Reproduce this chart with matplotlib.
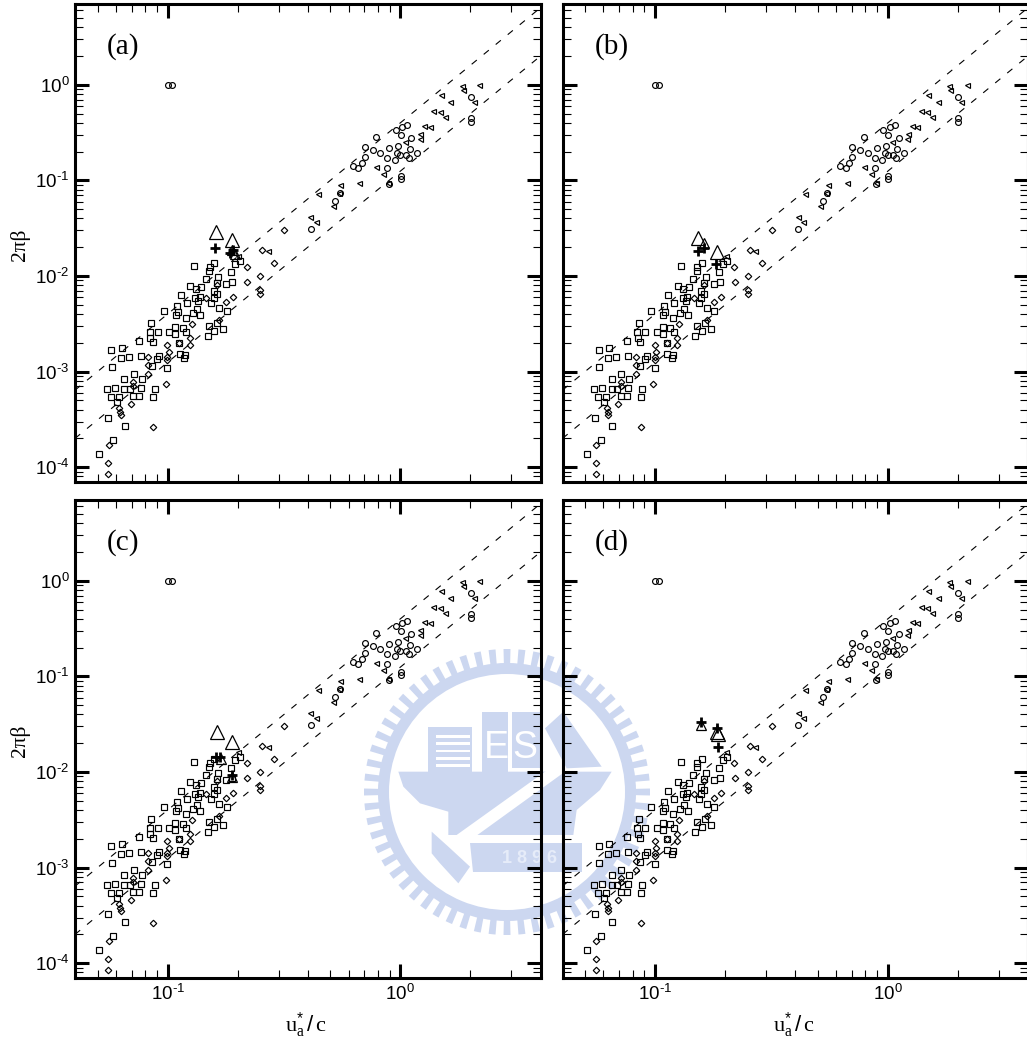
import numpy as np
import matplotlib
matplotlib.use('Agg')
import matplotlib.pyplot as plt
from matplotlib.patches import Wedge, Polygon
from matplotlib.ticker import LogLocator, FuncFormatter, NullFormatter

plt.rcParams['font.family'] = ['Liberation Sans', 'DejaVu Sans']
plt.rcParams['mathtext.fontset'] = 'custom'
plt.rcParams['mathtext.rm'] = 'Liberation Sans'
plt.rcParams['mathtext.it'] = 'Liberation Serif'

# all values, as log10(u/c) and log10(2 pi beta)
square_logu = [-1.293, -1.234, -1.258, -1.185, -1.261, -1.227, -1.245, -1.210, -1.218, -1.187,
               -1.162, -1.116, -1.148, -1.121, -1.062, -1.055, -1.187, -1.146, -1.112, -1.065,
               -1.240, -1.243, -1.198, -1.202, -1.168, -1.115, -1.121, -1.075, -1.076, -1.070,
               -1.043, -1.063, -1.044, -1.036, -1.001, -1.017, -0.993, -0.967, -0.968, -0.966,
               -0.957, -0.960, -0.943, -0.934, -0.920, -0.923, -0.917, -0.902, -0.892, -0.875,
               -0.868, -0.882, -0.861, -0.879, -0.856, -0.836, -0.859, -0.821, -0.819, -0.799,
               -0.887, -0.947, -0.925, -0.928, -0.828, -0.821, -0.799, -0.762, -0.812, -0.801,
               -0.788, -0.802, -0.778, -0.747, -0.786, -0.723, -0.749, -0.727, -0.710, -0.691,
               -0.782, -0.788, -0.951]
square_logb = [-3.863, -3.713, -3.486, -3.570, -3.185, -3.171, -3.262, -3.269, -3.314, -3.182,
               -3.182, -3.168, -3.259, -3.259, -3.269, -3.185, -3.080, -3.021, -3.077, -2.944,
               -2.948, -2.773, -2.752, -2.857, -2.843, -2.839, -2.679, -2.644, -2.591, -2.490,
               -2.591, -2.686, -2.864, -2.839, -2.958, -2.371, -2.591, -2.609, -2.532, -2.403,
               -2.375, -2.319, -2.196, -2.546, -2.591, -2.441, -2.287, -2.102, -2.389, -2.347,
               -2.263, -2.228, -2.217, -2.133, -2.116, -2.036, -2.403, -1.948, -1.903, -1.861,
               -1.892, -2.815, -2.822, -2.857, -2.626, -2.528, -2.577, -2.553, -2.280, -2.228,
               -2.193, -2.158, -2.333, -2.361, -2.493, -2.060, -2.088, -1.955, -1.871, -1.847,
               -2.015, -2.071, -2.696]

diamond_logu = [-1.255, -1.255, -1.254, -1.062, -1.159, -1.202, -1.204, -1.207, -1.007, -1.148,
                -1.148, -1.083, -1.083, -1.083, -1.001, -0.996, -1.001, -1.001, -0.897, -0.904,
                -0.904, -0.951, -0.835, -0.779, -0.788, -0.749, -0.719, -0.657, -0.661, -0.603,
                -0.603, -0.603, -0.541, -0.594, -0.498]
diamond_logb = [-4.066, -3.961, -3.765, -3.583, -3.335, -3.458, -3.426, -3.381, -3.126, -3.105,
                -3.154, -3.024, -2.930, -2.843, -2.724, -2.794, -2.846, -2.881, -2.500, -2.647,
                -2.724, -2.696, -2.231, -2.462, -2.095, -2.273, -2.221, -2.060, -1.910, -2.001,
                -2.147, -2.193, -1.868, -1.728, -1.520]

circle_logu = [-0.386, -0.280, -0.261, -0.204, -0.181, -0.165, -0.152, -0.154, -0.118, -0.103,
               -0.086, -0.057, -0.057, -0.047, -0.049, -0.024, -0.020, -0.014, -0.010, 0.001,
               0.009, 0.029, 0.000, 0.024, 0.037, 0.040, 0.046, 0.070, 0.001, 0.001,
               0.303, 0.303, 0.303, -1.000, -0.983]
circle_logb = [-1.511, -1.217, -1.130, -0.850, -0.867, -0.815, -0.752, -0.650, -0.682, -0.549,
               -0.717, -0.867, -0.766, -0.657, -1.042, -0.787, -0.472, -0.710, -0.636, -0.521,
               -0.441, -0.420, -0.734, -0.731, -0.762, -0.671, -0.552, -0.717, -0.955, -0.990,
               -0.126, -0.350, -0.388, 0.000, 0.000]

left_tri_logu = [-0.387, -0.364, -0.290, -0.264, -0.258, -0.354, -0.177, -0.103, -0.073, -0.052,
                 0.019, 0.083, 0.086, 0.103, 0.126, 0.141, 0.169, 0.191, 0.215, 0.174,
                 0.263, 0.267, 0.316, 0.339, -0.569, -0.696]
left_tri_logb = [-1.381, -1.434, -1.269, -1.137, -1.049, -1.144, -1.032, -0.857, -0.937, -1.025,
                 -0.594, -0.570, -0.514, -0.427, -0.437, -0.269, -0.287, -0.336, -0.185, -0.108,
                 -0.010, -0.059, -0.175, -0.007, -1.735, -1.788]

# the points that change from panel to panel
labels = ['(a)', '(b)', '(c)', '(d)']
big_tri_logu = [[-0.792, -0.725], [-0.814, -0.735], [-0.789, -0.723], [-0.735, -0.728]]
big_tri_logb = [[-1.538, -1.625], [-1.601, -1.754], [-1.586, -1.684], [-1.580, -1.607]]
small_tri_logu = [[-0.722, -0.709], [-0.788], [-0.770, -0.723], [-0.802]]
small_tri_logb = [[-1.730, -1.772], [-1.660], [-1.866, -2.050], [-1.509]]
plus_logu = [[-0.795, -0.730, -0.717], [-0.814, -0.788, -0.738],
             [-0.792, -0.775, -0.723], [-0.802, -0.735, -0.728]]
plus_logb = [[-1.705, -1.761, -1.730], [-1.740, -1.705, -1.871],
             [-1.842, -1.842, -2.034], [-1.475, -1.538, -1.737]]

# the two dashed guide lines
line_u = [0.04, 4.0]
upper_line = [6.4e-4, 6.4]
lower_line = [2.0e-4, 2.0]

xlim = (0.04, 4.0)
ylim = (7e-5, 7.0)

W, H = 1027, 1044
fig = plt.figure(figsize=(W / 100, H / 100), dpi=100)

# watermark behind everything, drawn in picture pixels
bg = fig.add_axes([0, 0, 1, 1], zorder=-1)
bg.set_xlim(0, W)
bg.set_ylim(H, 0)
bg.axis('off')
wm_color = '#ccd7f0'
cx, cy = 507, 792
bg.add_patch(Wedge((cx, cy), 129, 0, 360, width=11, fc=wm_color, ec='none'))
for a in np.arange(0, 360, 6.0):
    bg.add_patch(Wedge((cx, cy), 143, a - 1.4, a + 1.4, width=15, fc=wm_color, ec='none'))


def wm_xy(pts):
    return [(360 + x / 3, 640 + y / 3) for x, y in pts]


hull = [(115, 395), (755, 395), (720, 450), (650, 510), (640, 585), (375, 585), (265, 585),
        (265, 515), (180, 490), (130, 440)]
bg.add_patch(Polygon(wm_xy(hull), fc=wm_color, ec='none'))
bg.add_patch(Polygon(wm_xy([(205, 260), (335, 260), (335, 395), (205, 395)]), fc=wm_color, ec='none'))
for y in range(285, 395, 22):
    bg.add_patch(Polygon(wm_xy([(228, y), (330, y), (330, y + 8), (228, y + 8)]), fc='white', ec='none'))
bg.add_patch(Polygon(wm_xy([(365, 215), (445, 215), (445, 395), (365, 395)]), fc=wm_color, ec='none'))
bg.add_patch(Polygon(wm_xy([(455, 215), (545, 215), (545, 385), (455, 385)]), fc=wm_color, ec='none'))
bg.add_patch(Polygon(wm_xy([(555, 265), (610, 215), (725, 380), (620, 385)]), fc=wm_color, ec='none'))
# sword across the hull, handle lower left
bg.add_patch(Polygon(wm_xy([(255, 610), (590, 370), (615, 395), (290, 630)]), fc='white', ec='none'))
bg.add_patch(Polygon(wm_xy([(215, 575), (265, 620), (330, 680), (295, 730), (240, 670), (215, 640)]),
                     fc=wm_color, ec='none'))
bg.add_patch(Polygon(wm_xy([(330, 610), (665, 610), (665, 695), (340, 695)]), fc=wm_color, ec='none'))
bg.text(360 + 408 / 3, 640 + 325 / 3, 'E', color='white', fontsize=27, ha='center', va='center')
bg.text(360 + 495 / 3, 640 + 325 / 3, 'S', color='white', fontsize=27, ha='center', va='center')
bg.text(360 + 510 / 3, 640 + 655 / 3, '1 8 9 6', color='#e6ecf9', fontsize=13, fontweight='bold',
        ha='center', va='center')


def tick_label(v, pos):
    return r'$\mathdefault{10^{\text{-}%d}}$' % round(-np.log10(v)) if v < 1 else r'$\mathdefault{10^{0}}$'


# panel boxes in pixels: left, top, width, height
pw, ph = 465.5, 478
lefts = [75, 562.5, 75, 562.5]
tops = [4, 4, 500, 500]

for i in range(4):
    ax = fig.add_axes([lefts[i] / W, 1 - (tops[i] + ph) / H, pw / W, ph / H], facecolor='none')
    ax.set_xscale('log')
    ax.set_yscale('log')

    ax.plot(line_u, upper_line, color='k', lw=0.8, dashes=(6, 8))
    ax.plot(line_u, lower_line, color='k', lw=0.8, dashes=(6, 8))

    ax.plot(10.0 ** np.array(square_logu), 10.0 ** np.array(square_logb), ls='none', marker='s',
            ms=3.8, mfc='none', mec='k', mew=0.85)
    ax.plot(10.0 ** np.array(diamond_logu), 10.0 ** np.array(diamond_logb), ls='none', marker='D',
            ms=3.3, mfc='none', mec='k', mew=0.85)
    ax.plot(10.0 ** np.array(circle_logu), 10.0 ** np.array(circle_logb), ls='none', marker='o',
            ms=4.2, mfc='none', mec='k', mew=0.85)
    ax.plot(10.0 ** np.array(left_tri_logu), 10.0 ** np.array(left_tri_logb), ls='none', marker='<',
            ms=3.6, mfc='none', mec='k', mew=0.85)

    ax.plot(10.0 ** np.array(big_tri_logu[i]), 10.0 ** np.array(big_tri_logb[i]), ls='none', marker='^',
            ms=10.5, mfc='none', mec='k', mew=0.9)
    ax.plot(10.0 ** np.array(small_tri_logu[i]), 10.0 ** np.array(small_tri_logb[i]), ls='none', marker='^',
            ms=7, mfc='none', mec='k', mew=0.9)
    ax.plot(10.0 ** np.array(plus_logu[i]), 10.0 ** np.array(plus_logb[i]), ls='none', marker='+',
            ms=7, mec='k', mew=2)

    ax.set_xlim(xlim)
    ax.set_ylim(ylim)

    for axis in (ax.xaxis, ax.yaxis):
        axis.set_major_locator(LogLocator(base=10, numticks=12))
        axis.set_minor_locator(LogLocator(base=10, subs=np.arange(2, 10), numticks=12))
        axis.set_minor_formatter(NullFormatter())
        axis.set_major_formatter(FuncFormatter(tick_label))
    ax.tick_params(which='major', direction='in', top=True, right=True, length=10, width=2.2,
                   labelsize=13.5, pad=4, labelleft=i in (0, 2), labelbottom=i in (2, 3))
    ax.tick_params(which='minor', direction='in', top=True, right=True, length=5.5, width=0.8)
    for s in ax.spines.values():
        s.set_linewidth(2.2)

    ax.text(0.069, 0.912, labels[i], transform=ax.transAxes, family='Liberation Serif', fontsize=21,
            ha='left', va='center')

    if i in (0, 2):
        ax.text(20 / W, 1 - (tops[i] + 241) / H, '2πβ', transform=fig.transFigure, family='Liberation Serif',
                fontsize=15.5, rotation=90, ha='center', va='center')
    if i in (2, 3):
        ax.text((lefts[i] + 231) / W, 1 - 1025 / H, r'$u_a^{*}\,/\,c$', transform=fig.transFigure,
                fontsize=16, ha='center', va='center')

fig.savefig('out.png', dpi=100)
